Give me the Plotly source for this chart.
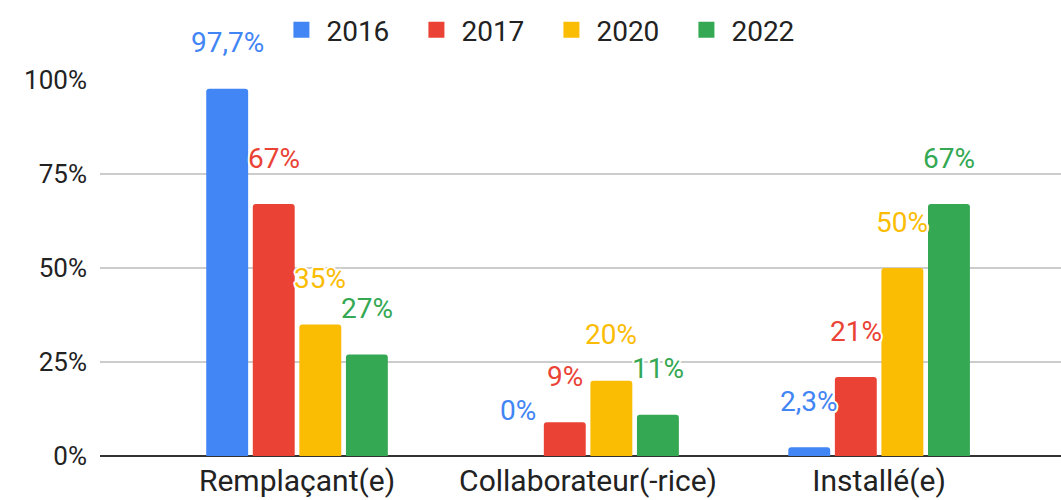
import plotly.graph_objects as go

# Survey results by status, per year
categories = ["Remplaçant(e)", "Collaborateur(-rice)", "Installé(e)"]
years = ["2016", "2017", "2020", "2022"]
values_2016 = [97.7, 0, 2.3]
values_2017 = [67, 9, 21]
values_2020 = [35, 20, 50]
values_2022 = [27, 11, 67]
y_ticks = [0, 25, 50, 75, 100]

series = [values_2016, values_2017, values_2020, values_2022]
colors = ["#4285F4", "#EA4335", "#FBBC04", "#34A853"]

FONT = "Roboto, Arial, sans-serif"
BARGAP = 0.36
GROUPGAP = 0.1
HALO = ("#fff 2px 0 0, #fff -2px 0 0, #fff 0 2px 0, #fff 0 -2px 0, "
        "#fff 1.5px 1.5px 0, #fff -1.5px 1.5px 0, #fff 1.5px -1.5px 0, #fff -1.5px -1.5px 0")


def fmt(v):
    s = f"{v:g}".replace(".", ",")
    return s + "%"


fig = go.Figure()
xs = list(range(len(categories)))
for name, vals, col in zip(years, series, colors):
    fig.add_trace(go.Bar(x=xs, y=vals, name=name, marker_color=col,
                         marker_line_width=0, showlegend=False))
    # legend entry with a larger square swatch
    fig.add_trace(go.Scatter(x=[None], y=[None], mode="markers", name=name,
                             marker=dict(symbol="square", size=16, color=col)))

# value labels above each bar
n = len(series)
slot = (1 - BARGAP) / n
for i, (vals, col) in enumerate(zip(series, colors)):
    off = (i - (n - 1) / 2) * slot
    for j, v in enumerate(vals):
        fig.add_annotation(x=j + off, y=v, text=fmt(v), showarrow=False,
                           yanchor="middle", xanchor="center", yshift=46,
                           font=dict(family=FONT, size=28, color=col, shadow=HALO))

fig.update_layout(
    width=1061, height=500,
    margin=dict(l=100, r=0, t=80, b=44),
    paper_bgcolor="white", plot_bgcolor="white",
    barmode="group", bargap=BARGAP, bargroupgap=GROUPGAP, barcornerradius=3,
    font=dict(family=FONT, size=26, color="#222"),
    legend=dict(orientation="h", xref="container", yref="container",
                x=0.515, y=0.94, xanchor="center", yanchor="middle",
                font=dict(family=FONT, size=28, color="#222"),
                itemwidth=40, entrywidth=80, bgcolor="rgba(0,0,0,0)"),
    showlegend=True,
)
fig.update_xaxes(range=[-0.677, 2.625], tickvals=xs, ticktext=categories,
                 tickfont=dict(size=30),
                 showgrid=False, zeroline=False, showline=False, ticks="",
                 ticklabelstandoff=4, fixedrange=True)
fig.update_yaxes(range=[0, 100], tickvals=y_ticks,
                 ticktext=[f"{t}%" for t in y_ticks],
                 tickfont=dict(size=26),
                 showgrid=True, gridcolor="#cccccc", gridwidth=1.5,
                 zeroline=True, zerolinecolor="#333333", zerolinewidth=2,
                 showline=False, ticks="", ticklabelstandoff=12, fixedrange=True)

fig.write_html("out.html")
